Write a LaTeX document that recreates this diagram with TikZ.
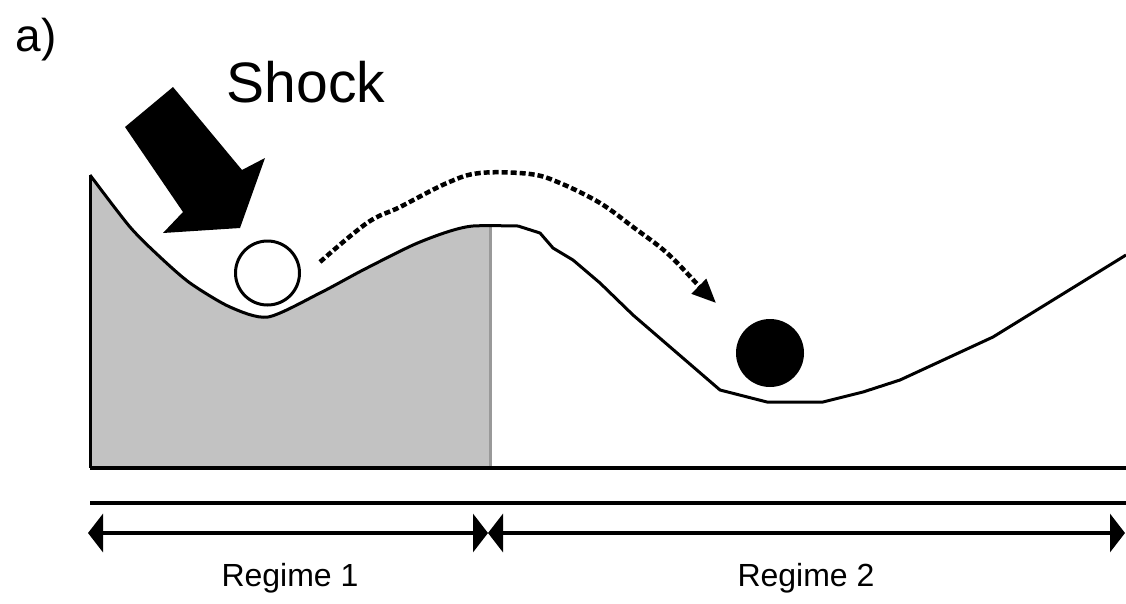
\documentclass[tikz,border=0pt]{standalone}
\usepackage{fontspec}
\setmainfont{Liberation Sans}
\usetikzlibrary{arrows.meta}
\begin{document}
\begin{tikzpicture}[x=1pt,y=-1pt,
  landscape/.style={line width=3pt,line join=round},
  rule/.style={line width=3.5pt},
  span/.style={line width=3.5pt,{Triangle[length=15pt,width=38pt]}-{Triangle[length=15pt,width=38pt]}},
  tag/.style={inner sep=0pt,font=\fontsize{32}{36}\selectfont},
  ballopen/.style={circle,draw,line width=3pt,fill=white,minimum size=64pt,inner sep=0pt},
  ballfull/.style={circle,fill=black,minimum size=68pt,inner sep=0pt},
  path/.style={line width=4.5pt,dash pattern=on 6pt off 3pt,-{Triangle[length=24pt,width=20pt]}}]
\useasboundingbox (0,0) rectangle (1126,603);

% shaded basin of the first regime
\fill[gray!48] (90,468) -- plot[smooth,tension=0.45] coordinates
  {(90,175) (130,227) (160,257) (190,283) (230,307) (268,317) (320,293)
   (363,270) (413,245) (447,232) (473,226) (490,225)} -- (490,468) -- cycle;
\draw[gray!80,line width=3pt] (490,226) -- (490,468);

% potential landscape
\draw[landscape] plot[smooth,tension=0.45] coordinates
  {(90,175) (130,227) (160,257) (190,283) (230,307) (268,317) (320,293)
   (363,270) (413,245) (447,232) (473,226) (518,226)};
\draw[landscape] (518,226) -- (540,233) -- (553,248) -- (573,260) -- (600,283)
  -- (633,315) -- (720,390) -- (767,402) -- (823,402) -- (863,392) -- (900,380)
  -- (993,337) -- (1126,255);
\draw[landscape] (90,175) -- (90,468);

% ground and scale lines
\draw[rule] (90,468) -- (1126,468);
\draw[rule] (90,503) -- (1126,503);

% regime extents
\coordinate (r1a) at (88,533);
\coordinate (mid) at (488,533);
\coordinate (r2b) at (1125,533);
\draw[span] (r1a) -- (mid);
\draw[span] (mid) -- (r2b);
\node[tag] (reg1) at (290,578) {Regime 1};
\node[tag] (reg2) at (806,578) {Regime 2};

% balls
\node[ballopen] (start) at (267.5,273) {};
\node[ballfull] (end) at (770,353) {};

% transition path
\draw[path] plot[smooth,tension=0.6] coordinates
  {(320,262) (367,223) (400,207) (447,183) (480,173) (530,174) (560,183)
   (600,203) (633,227) (667,253) (700,287) (716,303)};

% shock arrow
\fill (173,87) -- (242,170) -- (265,158) -- (240,228) -- (163,233)
  -- (183,212) -- (125,127) -- cycle;
\node[inner sep=0pt,font=\fontsize{57}{60}\selectfont] (shock) at (306,82) {Shock};

% panel label
\node[inner sep=0pt,font=\fontsize{46}{50}\selectfont] (panel) at (36,40) {a)};
\end{tikzpicture}
\end{document}
